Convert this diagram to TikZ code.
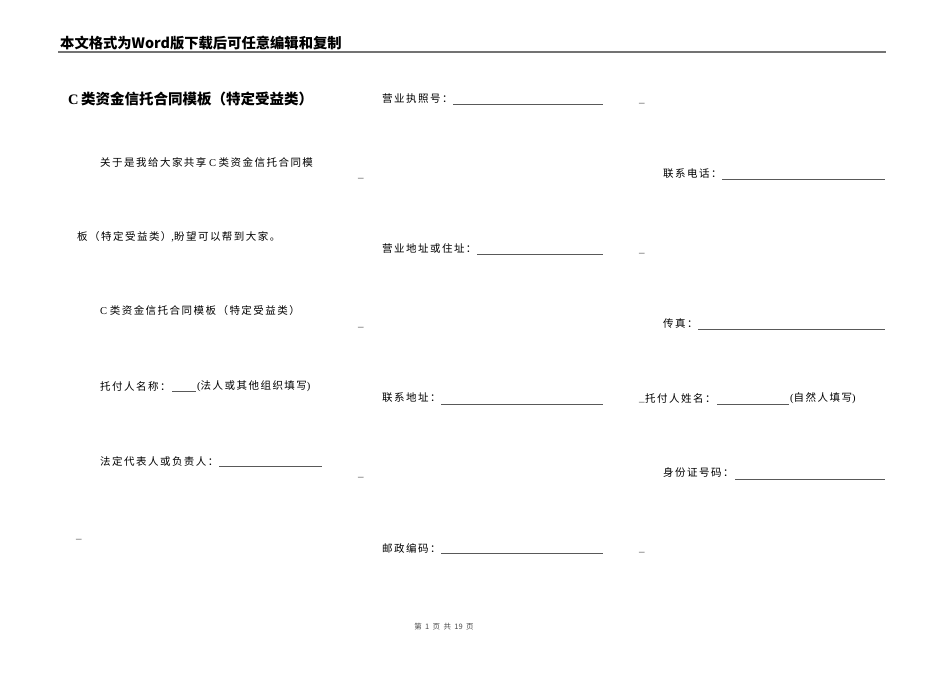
\documentclass[tikz,border=0pt]{standalone}
\usepackage{fontspec}
\setmainfont{Liberation Serif}
\newfontfamily\cjk{Noto Sans CJK SC}
\newfontfamily\cjkbody[LetterSpace=14]{Noto Sans CJK SC}
\newcommand{\bodysize}{\fontsize{10.5}{12}\selectfont}

\begin{document}
\begin{tikzpicture}[x=1pt,y=-1pt,
  body/.style={anchor=west,inner sep=0pt,font=\cjkbody\bodysize},
  blank/.style={anchor=base west,inner sep=0pt,font=\fontsize{11}{12}\selectfont,text=black!75},
  fillline/.style={draw=black!65,line width=0.7pt}]
\useasboundingbox[fill=white] (0,0) rectangle (950,672);
% header
\node[anchor=west,inner sep=0pt,font=\cjk\bfseries\fontsize{14.3}{16}\selectfont] (head) at (60,43) {本文格式为Word版下载后可任意编辑和复制};
\draw[black!55,line width=1.5pt] (58,52) -- (886,52);
\node[anchor=west,inner sep=0pt,font=\bfseries\fontsize{14.5}{16}\selectfont] (title) at (68,99) {C\,{\cjk\bfseries 类资金信托合同模板（特定受益类）}};
% first column
\node[body] (intro1) at (100,162) {关于是我给大家共享{\rmfamily\bodysize\ C }类资金信托合同模};
\node[body] (intro2) at (77,237) {板（特定受益类）{\rmfamily\bodysize ,}盼望可以帮到大家。};
\node[body] (name) at (100,311) {{\rmfamily\bodysize C }类资金信托合同模板（特定受益类）};
\node[body] (trustor) at (100,386) {托付人名称：};
\node[body] (trustornote) at (197,386) {{\rmfamily\bodysize (}法人或其他组织填写{\rmfamily\bodysize )}};
\node[body] (legal) at (100,461) {法定代表人或负责人：};
% second column
\node[body] (license) at (382,99) {营业执照号：};
\node[body] (addr) at (382,249) {营业地址或住址：};
\node[body] (contact) at (382,398) {联系地址：};
\node[body] (post) at (382,548) {邮政编码：};
% third column
\node[body] (phone) at (663,174) {联系电话：};
\node[body] (fax) at (663,323) {传真：};
\node[body] (person) at (645,398) {托付人姓名：};
\node[body] (personnote) at (790,398) {{\rmfamily\bodysize (}自然人填写{\rmfamily\bodysize )}};
\node[body] (idno) at (663,473) {身份证号码：};
% blanks
\draw[fillline] (172,391) -- (196,391);
\draw[fillline] (219,466) -- (322,466);
\draw[fillline] (453,104) -- (603,104);
\draw[fillline] (477,254) -- (603,254);
\draw[fillline] (441,404) -- (603,404);
\draw[fillline] (441,553) -- (603,553);
\draw[fillline] (722,179) -- (885,179);
\draw[fillline] (698,329) -- (885,329);
\draw[fillline] (717,404) -- (789,404);
\draw[fillline] (735,479) -- (885,479);
\foreach \x/\y [count=\i] in {358/177.5,358/326.5,358/476.5,76/538.5,639/102.5,639/252.5,639/401.5,639/551.5}
  \node[blank] (gap\i) at (\x,\y) {\_};
% footer
\node[inner sep=0pt,font=\cjk\fontsize{7.5}{8}\selectfont,text=black!70] (foot) at (444,627) {第\ \ 1\ \ 页\ \ 共\ \ 19\ \ 页};
\end{tikzpicture}
\end{document}
